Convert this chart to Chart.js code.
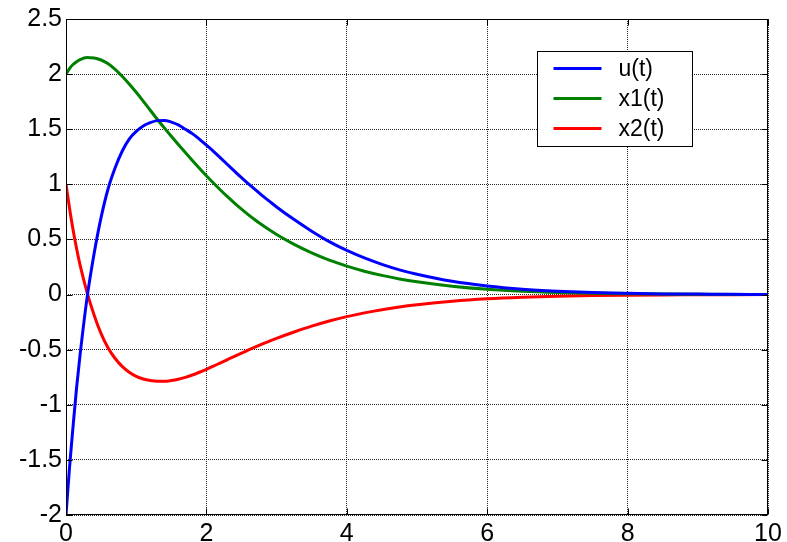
<!DOCTYPE html>
<html>
<head>
<meta charset="utf-8">
<script src="https://cdn.jsdelivr.net/npm/chart.js@4/dist/chart.umd.min.js"></script>
<style>
html,body{margin:0;padding:0;background:#fff;}
#wrap{width:787px;height:542px;position:relative;}
</style>
</head>
<body>
<div id="wrap"><canvas id="c" width="787" height="542"></canvas></div>
<script>
const seriesLabels = ['u(t)', 'x1(t)', 'x2(t)'];
const tValues  = [0, 0.05, 0.1, 0.15, 0.2, 0.3, 0.4, 0.5, 0.6, 0.7, 0.8, 0.9, 1.0, 1.1, 1.2, 1.3, 1.4, 1.5, 1.6, 1.7, 1.8, 1.9, 2.0, 2.1, 2.2, 2.3, 2.4, 2.5, 2.6, 2.7, 2.8, 2.9, 3.0, 3.25, 3.5, 3.75, 4.0, 4.25, 4.5, 4.75, 5.0, 5.5, 6.0, 6.5, 7.0, 7.5, 8.0, 8.5, 9.0, 9.5, 10.0];
const uValues  = [-2, -1.57, -1.2, -0.85, -0.55, -0.03, 0.37, 0.7, 0.96, 1.15, 1.3, 1.41, 1.48, 1.53, 1.56, 1.578, 1.58, 1.565, 1.54, 1.5, 1.46, 1.41, 1.355, 1.3, 1.24, 1.18, 1.12, 1.06, 1.005, 0.95, 0.895, 0.845, 0.795, 0.68, 0.575, 0.48, 0.4, 0.332, 0.274, 0.224, 0.184, 0.12, 0.077, 0.048, 0.03, 0.018, 0.011, 0.006, 0.004, 0.002, 0.001];
const x1Values = [2.0, 2.05, 2.087, 2.113, 2.132, 2.15, 2.147, 2.128, 2.093, 2.043, 1.98, 1.91, 1.835, 1.755, 1.672, 1.59, 1.512, 1.436, 1.361, 1.288, 1.216, 1.146, 1.078, 1.012, 0.949, 0.888, 0.83, 0.775, 0.723, 0.674, 0.628, 0.585, 0.545, 0.455, 0.378, 0.312, 0.258, 0.212, 0.174, 0.142, 0.116, 0.076, 0.048, 0.03, 0.019, 0.012, 0.007, 0.004, 0.0025, 0.0015, 0.001];
const x2Values = [1.0, 0.785, 0.59, 0.42, 0.27, 0.02, -0.185, -0.355, -0.485, -0.58, -0.652, -0.705, -0.742, -0.766, -0.78, -0.787, -0.787, -0.78, -0.768, -0.751, -0.73, -0.705, -0.678, -0.65, -0.62, -0.59, -0.56, -0.531, -0.503, -0.475, -0.448, -0.422, -0.397, -0.34, -0.287, -0.24, -0.2, -0.166, -0.137, -0.112, -0.092, -0.06, -0.038, -0.024, -0.015, -0.009, -0.0055, -0.003, -0.002, -0.001, -0.0006];
const seriesColors = ['#0000ff', '#008000', '#ff0000'];
const xTickValues = [0, 2, 4, 6, 8, 10];
const yTickValues = [-2, -1.5, -1, -0.5, 0, 0.5, 1, 1.5, 2, 2.5];

const FONT = "'Liberation Sans', Arial, sans-serif";

function pts(ys){ return tValues.map((t,i)=>({x:t, y:ys[i]})); }
const allSeries = [uValues, x1Values, x2Values];

const framePlugin = {
  id: 'frame',
  afterDraw(chart){
    const {ctx, chartArea:a, scales:{x, y}} = chart;
    ctx.save();
    ctx.strokeStyle = '#000';
    ctx.lineWidth = 1;
    const L = Math.round(a.left)+0.5, R = Math.round(a.right)-0.5, T = Math.round(a.top)+0.5, B = Math.round(a.bottom)-0.5;
    ctx.strokeRect(L, T, R-L, B-T);
    ctx.beginPath();
    xTickValues.forEach(v=>{
      const px = Math.round(x.getPixelForValue(v))+0.5;
      ctx.moveTo(px, B); ctx.lineTo(px, B-6);
      ctx.moveTo(px, T); ctx.lineTo(px, T+6);
    });
    yTickValues.forEach(v=>{
      const py = Math.round(y.getPixelForValue(v))+0.5;
      ctx.moveTo(L, py); ctx.lineTo(L+6, py);
      ctx.moveTo(R, py); ctx.lineTo(R-6, py);
    });
    ctx.stroke();
    // legend box
    const bx = Math.round(a.right) - 231 + 0.5, by = Math.round(a.top) + 32 + 0.5;
    const bw = 155, bh = 95;
    ctx.fillStyle = '#fff';
    ctx.fillRect(bx, by, bw, bh);
    ctx.strokeRect(bx, by, bw, bh);
    ctx.font = '23px ' + FONT;
    ctx.textBaseline = 'middle';
    ctx.textAlign = 'left';
    chart.data.datasets.forEach((ds, i)=>{
      const ly = by + 17 + i*30;
      ctx.strokeStyle = ds.borderColor;
      ctx.lineWidth = 3;
      ctx.beginPath();
      ctx.moveTo(bx+16, ly); ctx.lineTo(bx+64, ly);
      ctx.stroke();
      ctx.fillStyle = '#000';
      ctx.fillText(ds.label, bx+81, ly+1);
    });
    ctx.restore();
  }
};

new Chart(document.getElementById('c'), {
  type: 'line',
  data: {
    datasets: seriesLabels.map((lab, i)=>({
      label: lab,
      data: pts(allSeries[i]),
      borderColor: seriesColors[i],
      backgroundColor: seriesColors[i],
      borderWidth: 3,
      pointRadius: 0,
      fill: false,
      cubicInterpolationMode: 'monotone'
    }))
  },
  options: {
    responsive: false,
    animation: false,
    layout: { padding: { left: 0, right: 19, top: 18, bottom: 0 } },
    plugins: { legend: { display: false }, tooltip: { enabled: false } },
    scales: {
      x: {
        type: 'linear', min: 0, max: 10,
        afterBuildTicks(s){ s.ticks = xTickValues.map(v=>({value:v})); },
        afterFit(s){ s.height = 27; },
        border: { display: false, dash: [1, 1] },
        grid: { color: 'rgba(0,0,0,0.85)', lineWidth: 1, drawTicks: false },
        ticks: { color: '#000', font: { family: FONT, size: 25 }, padding: 4, maxRotation: 0, autoSkip: false,
                 callback: v => String(v) }
      },
      y: {
        type: 'linear', min: -2, max: 2.5,
        afterBuildTicks(s){ s.ticks = yTickValues.map(v=>({value:v})); },
        afterFit(s){ s.width = 66; },
        border: { display: false, dash: [1, 1] },
        grid: { color: 'rgba(0,0,0,0.85)', lineWidth: 1, drawTicks: false },
        ticks: { color: '#000', font: { family: FONT, size: 25 }, padding: 4, autoSkip: false,
                 callback: v => String(v) }
      }
    }
  },
  plugins: [framePlugin]
});
</script>
</body>
</html>
